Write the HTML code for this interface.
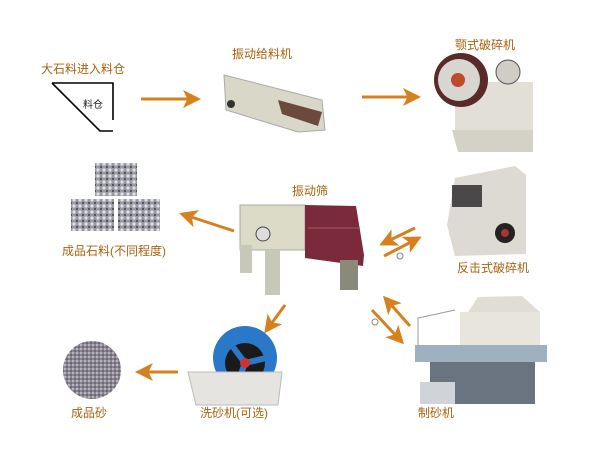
<!DOCTYPE html>
<html><head><meta charset="utf-8"><style>
body{margin:0;background:#fff}
svg text{font-family:"Liberation Sans","Noto Sans CJK SC",sans-serif;font-size:12px;fill:#a8620e}
</style></head><body>
<svg width="600" height="450" viewBox="0 0 600 450" xmlns="http://www.w3.org/2000/svg">
<defs>
<pattern id="st" width="6" height="6" patternUnits="userSpaceOnUse"><rect width="6" height="6" fill="#9a9aa4"/><circle cx="2" cy="2" r="1.6" fill="#e0e0e6"/><circle cx="5" cy="5" r="1.2" fill="#55555e"/></pattern>
<pattern id="sd" width="4" height="4" patternUnits="userSpaceOnUse"><rect width="4" height="4" fill="#8a8592"/><circle cx="1" cy="1" r="0.9" fill="#d8d6de"/><circle cx="3" cy="3" r="0.8" fill="#4a4650"/></pattern>
<marker id="ah" markerWidth="6" markerHeight="6" refX="5" refY="3" orient="auto"><path d="M0,0 L6,3 L0,6 L1.5,3Z" fill="#d6801e"/></marker>
</defs>
<g fill="none" stroke="#d6801e" stroke-width="3" marker-end="url(#ah)">
<line x1="141" y1="99" x2="198" y2="99"/>
<line x1="362" y1="97" x2="418" y2="97"/>
<line x1="234" y1="231" x2="182" y2="214"/>
<line x1="415" y1="228" x2="382" y2="244"/>
<line x1="384" y1="256" x2="419" y2="238"/>
<line x1="410" y1="326" x2="385" y2="298"/>
<line x1="372" y1="310" x2="402" y2="342"/>
<line x1="285" y1="305" x2="266" y2="331"/>
<line x1="178" y1="372" x2="138" y2="372"/>
</g>
<circle cx="400" cy="256" r="3" fill="none" stroke="#888" stroke-width="1"/>
<circle cx="375" cy="322" r="3" fill="none" stroke="#888" stroke-width="1"/>
<!-- hopper -->
<g stroke="#000" stroke-width="1.6" fill="none">
<polyline points="52,83 113,83 113,120"/>
<polyline points="52,83 100,131 113,131"/>
</g>
<text x="83" y="108" style="fill:#222;font-size:10px">料仓</text>
<text x="41" y="73">大石料进入料仓</text>
<text x="232" y="58">振动给料机</text>
<text x="455" y="49">颚式破碎机</text>
<text x="292" y="195">振动筛</text>
<text x="62" y="255">成品石料(不同程度)</text>
<text x="457" y="272">反击式破碎机</text>
<text x="71" y="417">成品砂</text>
<text x="200" y="417">洗砂机(可选)</text>
<text x="418" y="417">制砂机</text>
<!-- feeder -->
<polygon points="224,75 322,100 325,130 298,132 226,110" fill="#d9d7c8" stroke="#aaa"/>
<polygon points="278,100 322,112 318,126 282,114" fill="#6b4a3e"/>
<circle cx="231" cy="104" r="4" fill="#333"/>
<!-- jaw crusher -->
<rect x="455" y="82" width="78" height="60" fill="#e2e0d6"/>
<polygon points="452,130 533,130 533,152 458,152" fill="#d4d2c6"/>
<circle cx="461" cy="80" r="27" fill="#5a2a2a"/>
<circle cx="459" cy="80" r="21" fill="#d8d6d0"/>
<circle cx="458" cy="80" r="7" fill="#c04a2a"/>
<circle cx="508" cy="72" r="12" fill="#cfcdc6" stroke="#555"/>
<!-- impact crusher -->
<polygon points="455,178 515,166 526,175 526,254 455,256 447,225" fill="#dcdad2"/>
<rect x="452" y="185" width="30" height="22" fill="#4a4848"/>
<circle cx="505" cy="233" r="10" fill="#222"/>
<circle cx="505" cy="233" r="4" fill="#a33"/>
<!-- stones -->
<rect x="95" y="163" width="42" height="33" fill="url(#st)"/>
<rect x="71" y="199" width="43" height="32" fill="url(#st)"/>
<rect x="118" y="199" width="42" height="32" fill="url(#st)"/>
<!-- screen -->
<rect x="240" y="205" width="65" height="45" fill="#dcdbc8" stroke="#aaa"/>
<polygon points="305,205 356,206 364,255 363,266 305,258" fill="#7a2a3a"/>
<polyline points="308,228 360,228 M308,243 362,245" stroke="#b05070" fill="none"/>
<rect x="240" y="245" width="12" height="28" fill="#c8c8b8"/>
<rect x="265" y="250" width="15" height="45" fill="#c8c8b8"/>
<rect x="340" y="260" width="18" height="30" fill="#8a8a7a"/>
<circle cx="263" cy="234" r="7" fill="#ddd" stroke="#444"/>
<!-- sand -->
<circle cx="92" cy="370" r="29" fill="url(#sd)"/>
<!-- washer -->
<circle cx="245" cy="358" r="32" fill="#2a78c8"/>
<circle cx="245" cy="363" r="20" fill="#1a1a1a"/>
<path d="M245,363 L233,347 M245,363 L266,358 M245,363 L238,382" stroke="#2a78c8" stroke-width="6"/>
<circle cx="245" cy="363" r="5" fill="#c33"/>
<polygon points="188,372 282,372 278,405 196,405" fill="#e6e4e0" stroke="#bbb"/>
<!-- sand maker -->
<rect x="460" y="312" width="80" height="36" fill="#e8e6dc"/>
<polygon points="468,312 478,297 522,296 540,312" fill="#e0ded4"/>
<rect x="415" y="345" width="132" height="17" fill="#9fb0c0"/>
<rect x="430" y="362" width="105" height="42" fill="#6a7480"/>
<rect x="420" y="382" width="35" height="22" fill="#d0d4d8"/>
<polyline points="418,345 418,318 455,310 M547,345 547,318" stroke="#999" fill="none"/>
</svg>
</body></html>
